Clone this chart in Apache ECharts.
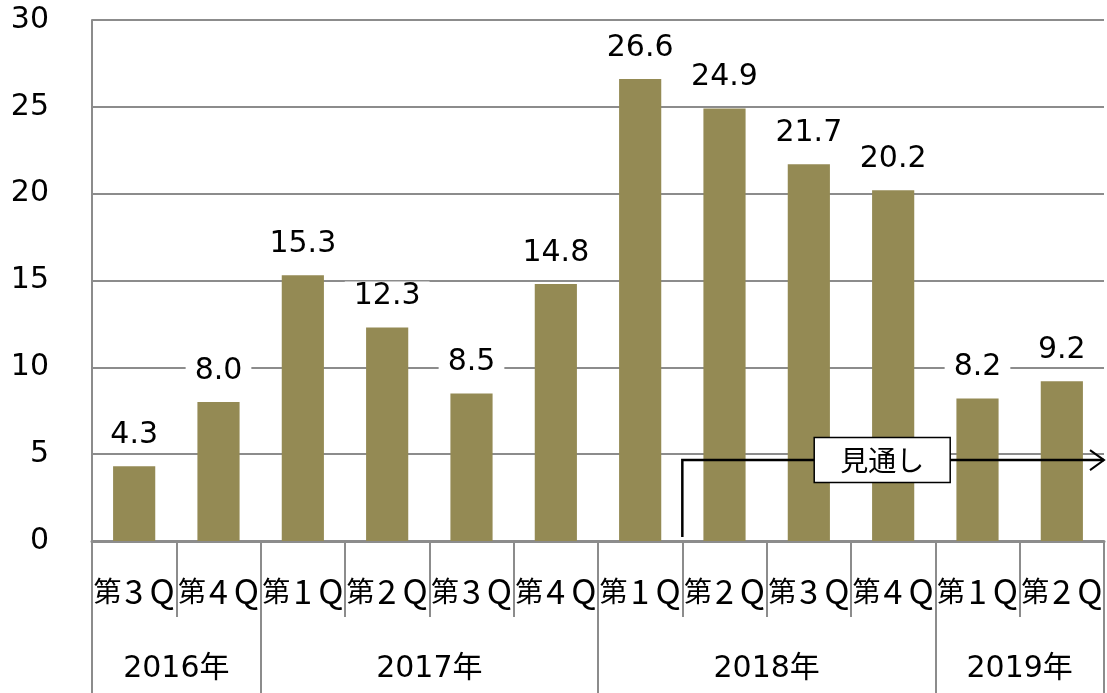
<!DOCTYPE html>
<html>
<head>
<meta charset="utf-8">
<title>chart</title>
<script src="https://cdn.jsdelivr.net/npm/echarts@6.0.0/dist/echarts.min.js"></script>
<style>
  html, body { margin: 0; padding: 0; background: #fff; }
  #main { width: 1107px; height: 693px; }
</style>
</head>
<body>
<div id="main"></div>
<script>
// data
const quarters = ['第3Q', '第4Q', '第1Q', '第2Q', '第3Q', '第4Q', '第1Q', '第2Q', '第3Q', '第4Q', '第1Q', '第2Q'];
const years = ['2016年', '2016年', '2017年', '2017年', '2017年', '2017年', '2018年', '2018年', '2018年', '2018年', '2019年', '2019年'];
const values = [4.3, 8.0, 15.3, 12.3, 8.5, 14.8, 26.6, 24.9, 21.7, 20.2, 8.2, 9.2];
const yMin = 0;
const yMax = 30;
const yStep = 5;

// forecast annotation
const forecastText = '見通し';
const forecastStart = 7;     // first forecast category
const forecastLevel = 4.66;  // y value of the arrow line
const forecastBoxAt = 9.37;  // box centre, in category units

const gray = '#8c8c8c';
const numFont = 'DejaVu Sans, Noto Sans CJK JP, sans-serif';
const jpFont = 'Noto Sans CJK JP, sans-serif';

// year labels sit in the middle of each group of quarters
const yearCentres = {};
let start = 0;
for (let i = 1; i <= years.length; i++) {
  if (i === years.length || years[i] !== years[i - 1]) {
    yearCentres[(start + i) / 2] = years[start];
    start = i;
  }
}

const chart = echarts.init(document.getElementById('main'));

const option = {
  animation: false,
  grid: { left: 92, right: 2, top: 20, bottom: 152 },
  xAxis: [
    {
      type: 'category',
      data: quarters,
      position: 'bottom',
      axisLine: { onZero: false, lineStyle: { color: gray, width: 3 } },
      axisTick: { show: true, length: 76, lineStyle: { color: gray, width: 2 } },
      axisLabel: {
        interval: 0,
        margin: 33,
        color: '#000',
        formatter: (v) => '{k|' + v[0] + '}{d|' + v[1] + '}{q|' + v.slice(2) + '}',
        rich: {
          k: { fontSize: 28, lineHeight: 34, fontFamily: jpFont, color: '#000' },
          d: { fontSize: 34, lineHeight: 34, fontFamily: jpFont, color: '#000', padding: [0, 6, 0, 3] },
          q: { fontSize: 34, lineHeight: 34, fontFamily: jpFont, color: '#000' }
        }
      }
    },
    {
      // year separators
      type: 'category',
      data: years,
      position: 'bottom',
      axisLine: { show: false, onZero: false },
      axisTick: {
        show: true,
        length: 152,
        interval: (i, v) => i === 0 || years[i] !== years[i - 1],
        lineStyle: { color: gray, width: 2 }
      },
      axisLabel: { show: false },
      splitLine: { show: false }
    },
    {
      // year labels
      type: 'value',
      min: 0,
      max: years.length,
      interval: 1,
      position: 'bottom',
      axisLine: { show: false, onZero: false },
      axisTick: { show: false },
      splitLine: { show: false },
      axisLabel: {
        margin: 113,
        color: '#000',
        fontSize: 30,
        fontFamily: numFont,
        showMinLabel: true,
        showMaxLabel: true,
        formatter: (v) => yearCentres[v] || ''
      }
    }
  ],
  yAxis: {
    type: 'value',
    min: yMin,
    max: yMax,
    interval: yStep,
    axisLine: { show: true, lineStyle: { color: gray, width: 2 } },
    axisTick: { show: false },
    splitLine: { lineStyle: { color: gray, width: 2 } },
    axisLabel: { margin: 43, color: '#000', fontSize: 30, fontFamily: numFont }
  },
  series: [
    {
      type: 'bar',
      data: values,
      xAxisIndex: 0,
      yAxisIndex: 0,
      barWidth: '50%',
      itemStyle: { color: '#948A54' },
      label: {
        show: true,
        position: 'top',
        distance: 16,
        color: '#000',
        fontSize: 30,
        fontFamily: numFont,
        backgroundColor: '#fff',
        padding: [0, 9],
        formatter: (p) => p.value.toFixed(1)
      }
    }
  ]
};

chart.setOption(option);

// forecast arrow + box, placed through the axes
const bx = (chart.convertToPixel({ xAxisIndex: 0 }, forecastStart - 1) +
  chart.convertToPixel({ xAxisIndex: 0 }, forecastStart)) / 2;
const xEnd = chart.convertToPixel({ xAxisIndex: 2 }, years.length);
const yLine = chart.convertToPixel({ yAxisIndex: 0 }, forecastLevel);
const yBottom = chart.convertToPixel({ yAxisIndex: 0 }, 0) - 4;
const boxX = chart.convertToPixel({ xAxisIndex: 2 }, forecastBoxAt);
const boxW = 136;
const boxH = 45;

chart.setOption({
  graphic: [
    {
      type: 'polyline',
      z: 100,
      shape: { points: [[bx, yBottom], [bx, yLine], [xEnd, yLine]] },
      style: { stroke: '#000', lineWidth: 2.5, fill: null }
    },
    {
      type: 'polyline',
      z: 100,
      shape: { points: [[xEnd - 14, yLine - 10], [xEnd, yLine], [xEnd - 14, yLine + 10]] },
      style: { stroke: '#000', lineWidth: 2, fill: null }
    },
    {
      type: 'rect',
      z: 101,
      shape: { x: boxX - boxW / 2, y: yLine - boxH / 2, width: boxW, height: boxH },
      style: { fill: '#fff', stroke: '#000', lineWidth: 1.5 }
    },
    {
      type: 'text',
      z: 102,
      x: boxX,
      y: yLine,
      style: {
        text: forecastText,
        fill: '#000',
        font: '28px ' + jpFont,
        align: 'center',
        verticalAlign: 'middle'
      }
    }
  ]
});
</script>
</body>
</html>
